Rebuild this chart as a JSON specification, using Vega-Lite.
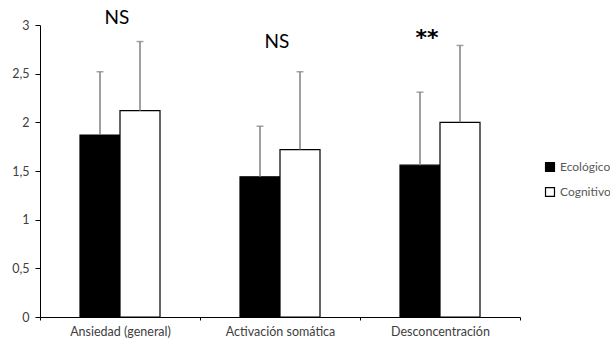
{
  "$schema": "https://vega.github.io/schema/vega-lite/v6.json",
  "autosize": "none",
  "width": 480,
  "height": 292,
  "padding": {"left": 40, "top": 25, "right": 90, "bottom": 25},
  "background": "white",
  "config": {"view": {"stroke": null}, "font": "Lato"},
  "datasets": {
    "bars": [
      {"cat": "Ansiedad (general)", "grupo": "Ecológico", "media": 1.87, "sup": 2.52},
      {"cat": "Ansiedad (general)", "grupo": "Cognitivo", "media": 2.12, "sup": 2.83},
      {"cat": "Activación somática", "grupo": "Ecológico", "media": 1.44, "sup": 1.96},
      {"cat": "Activación somática", "grupo": "Cognitivo", "media": 1.72, "sup": 2.52},
      {"cat": "Desconcentración", "grupo": "Ecológico", "media": 1.56, "sup": 2.31},
      {"cat": "Desconcentración", "grupo": "Cognitivo", "media": 2.0, "sup": 2.79}
    ],
    "notes": [
      {"cat": "Ansiedad (general)", "label": "NS", "pos": 3.07},
      {"cat": "Activación somática", "label": "NS", "pos": 2.83}
    ],
    "stars": [
      {"cat": "Desconcentración", "label": "**", "pos": 2.9}
    ]
  },
  "encoding": {
    "x": {
      "field": "cat", "type": "nominal",
      "sort": ["Ansiedad (general)", "Activación somática", "Desconcentración"],
      "scale": {"paddingInner": 0, "paddingOuter": 0},
      "axis": {"title": null, "labelAngle": 0, "tickBand": "extent", "domainColor": "#000000", "tickColor": "#000000", "tickSize": 3, "labelFontSize": 12.5, "labelColor": "#404040", "labelPadding": 5}
    }
  },
  "layer": [
    {
      "data": {"name": "bars"},
      "mark": {"type": "bar", "stroke": "#000000", "strokeWidth": 1.2},
      "encoding": {
        "xOffset": {"field": "grupo", "type": "nominal", "sort": ["Ecológico", "Cognitivo"], "scale": {"paddingOuter": 1.07, "paddingInner": 0}},
        "y": {
          "field": "media", "type": "quantitative",
          "scale": {"domain": [0, 3], "nice": false},
          "axis": {"title": null, "grid": false, "values": [0, 0.5, 1, 1.5, 2, 2.5, 3], "labelExpr": "replace(format(datum.value, '.1~f'), '.', ',')", "domainColor": "#000000", "tickColor": "#000000", "tickSize": 5, "labelFontSize": 12.5, "labelColor": "#404040", "labelPadding": 6}
        },
        "fill": {
          "field": "grupo", "type": "nominal",
          "sort": ["Ecológico", "Cognitivo"],
          "scale": {"domain": ["Ecológico", "Cognitivo"], "range": ["#000000", "#ffffff"]},
          "legend": {"title": null, "orient": "none", "legendX": 504, "legendY": 136, "padding": 0, "symbolType": "square", "symbolSize": 80, "symbolStrokeColor": "#000000", "symbolStrokeWidth": 1.2, "labelFontSize": 12, "labelColor": "#595959", "rowPadding": 11, "labelOffset": 4}
        }
      }
    },
    {
      "data": {"name": "bars"},
      "mark": {"type": "rule", "color": "#7f7f7f", "strokeWidth": 1.5},
      "encoding": {
        "xOffset": {"field": "grupo", "type": "nominal", "sort": ["Ecológico", "Cognitivo"], "scale": {"paddingOuter": 1.07, "paddingInner": 0}},
        "y": {"field": "media", "type": "quantitative"},
        "y2": {"field": "sup"}
      }
    },
    {
      "data": {"name": "bars"},
      "mark": {"type": "tick", "orient": "horizontal", "color": "#7f7f7f", "size": 7, "thickness": 1.5},
      "encoding": {
        "xOffset": {"field": "grupo", "type": "nominal", "sort": ["Ecológico", "Cognitivo"], "scale": {"paddingOuter": 1.07, "paddingInner": 0}},
        "y": {"field": "sup", "type": "quantitative"}
      }
    },
    {
      "data": {"name": "notes"},
      "mark": {"type": "text", "fontSize": 19, "color": "#000000", "baseline": "middle", "dx": -3},
      "encoding": {
        "y": {"field": "pos", "type": "quantitative"},
        "text": {"field": "label"}
      }
    },
    {
      "data": {"name": "stars"},
      "mark": {"type": "text", "font": "DejaVu Sans", "fontSize": 22, "fontWeight": "bold", "color": "#000000", "baseline": "alphabetic", "dx": -13, "dy": 10},
      "encoding": {
        "y": {"field": "pos", "type": "quantitative"},
        "text": {"field": "label"}
      }
    }
  ]
}
